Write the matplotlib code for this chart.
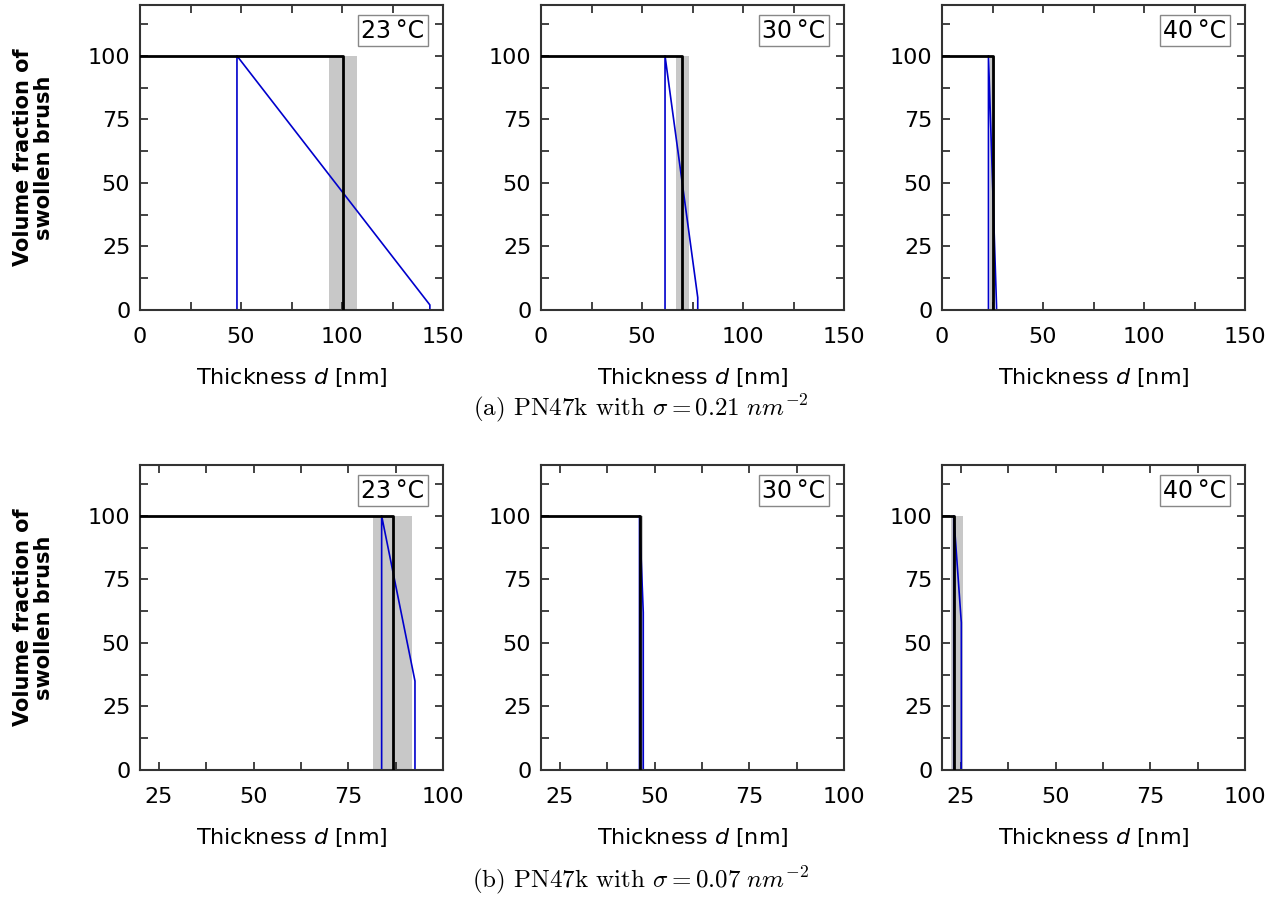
import numpy as np
import matplotlib
matplotlib.use("Agg")
import matplotlib.pyplot as plt
from matplotlib.ticker import MultipleLocator

# ── data ──────────────────────────────────────────────────────────────────
TEMPS = ["23\u2009°C", "30\u2009°C", "40\u2009°C"]

# (a) sigma = 0.21 nm^-2
A_STEP = [100.5, 69.8, 25.2]                       # black step edge
A_BAND = [(93.6, 107.4), (66.8, 73.3), (24.0, 26.0)]  # gray uncertainty band
A_BLUE_X = [[48.0, 48.0, 143.5, 143.5],
            [61.4, 61.4, 77.6, 77.6],
            [23.0, 23.0, 27.0, 27.0]]
A_BLUE_Y = [[0, 100, 2, 0],
            [0, 100, 4.9, 0],
            [0, 100, 1.5, 0]]

# (b) sigma = 0.07 nm^-2
B_STEP = [86.8, 46.2, 23.2]
B_BAND = [(81.6, 91.7), (45.8, 46.8), (22.5, 25.5)]
B_BLUE_X = [[83.8, 83.8, 92.6, 92.6],
            [46.0, 46.0, 47.0, 47.0],
            [23.1, 23.1, 25.1, 25.1]]
B_BLUE_Y = [[0, 100, 35, 0],
            [0, 100, 62, 0],
            [0, 100, 58, 0]]

ROWS = [
    dict(step=A_STEP, band=A_BAND, bx=A_BLUE_X, by=A_BLUE_Y, x0=0, xlim=(0, 150),
         xticks=[0, 50, 100, 150], xmin=25,
         caption=r"(a) PN47k with $\sigma = 0.21\ nm^{-2}$"),
    dict(step=B_STEP, band=B_BAND, bx=B_BLUE_X, by=B_BLUE_Y, x0=20, xlim=(20, 100),
         xticks=[25, 50, 75, 100], xmin=12.5,
         caption=r"(b) PN47k with $\sigma = 0.07\ nm^{-2}$"),
]

W, H = 1281, 908
fig = plt.figure(figsize=(W / 100, H / 100), dpi=100)

LEFTS = [140, 541, 942]
AX_W = 303
TOPS = [5, 465]
AX_H = 305

for r, row in enumerate(ROWS):
    for c in range(3):
        ax = fig.add_axes([LEFTS[c] / W, 1 - (TOPS[r] + AX_H) / H, AX_W / W, AX_H / H])
        lo, hi = row["band"][c]
        ax.fill_betweenx([0, 100], lo, hi, color="#c8c8c8", lw=0, zorder=1)
        ax.plot(row["bx"][c], row["by"][c], color="#0000cc", lw=1.2, zorder=2)
        xs = row["step"][c]
        ax.plot([row["x0"], xs, xs], [100, 100, 0], color="black", lw=2.0, zorder=3)

        ax.set_xlim(*row["xlim"])
        ax.set_ylim(0, 120)
        ax.set_xticks(row["xticks"])
        ax.xaxis.set_minor_locator(MultipleLocator(row["xmin"]))
        ax.set_yticks([0, 25, 50, 75, 100])
        ax.yaxis.set_minor_locator(MultipleLocator(12.5))
        ax.tick_params(which="both", direction="in", top=True, right=True,
                       length=6, width=1.2, color="#222222", labelsize=16)
        ax.tick_params(axis="x", pad=12)
        ax.tick_params(axis="y", pad=7)
        for s in ax.spines.values():
            s.set_linewidth(1.5)
            s.set_color("#333333")
        ax.set_xlabel(r"Thickness $d$ [nm]", fontsize=16, labelpad=14)
        if c == 0:
            ax.set_ylabel("Volume fraction of\nswollen brush", fontsize=15,
                          fontweight="bold", linespacing=1.05)
            ax.yaxis.set_label_coords(-0.285, 0.5)
        ax.text(0.835, 0.915, TEMPS[c], transform=ax.transAxes, ha="center",
                va="center", fontsize=17,
                bbox=dict(boxstyle="square,pad=0.15", fc="white", ec="#888888", lw=1.0))

    cap_y = [408, 880][r]
    fig.text(0.5, 1 - cap_y / H, row["caption"], ha="center", va="center",
             fontsize=18, family="cmr10", math_fontfamily="cm")

fig.savefig("out.png", dpi=100)
